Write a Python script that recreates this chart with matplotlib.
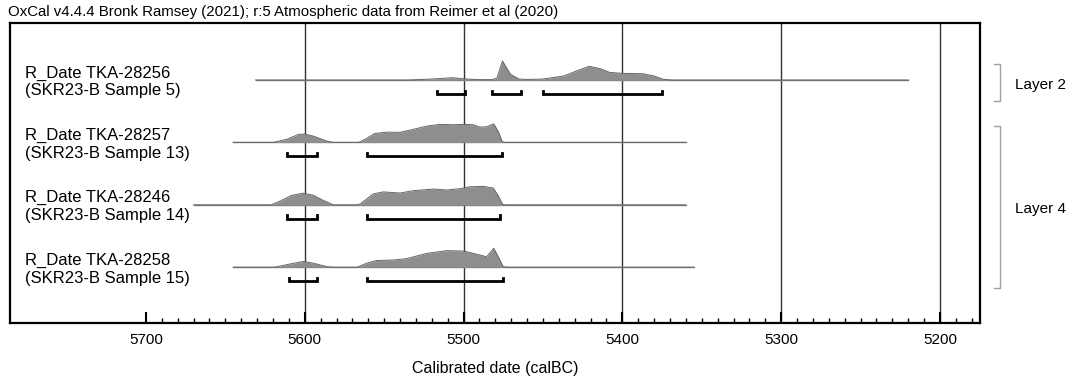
import matplotlib
matplotlib.use("Agg")
import matplotlib.pyplot as plt
from matplotlib.ticker import MultipleLocator, FixedLocator
from matplotlib.transforms import blended_transform_factory

plt.rcParams['font.family'] = ['Liberation Sans', 'DejaVu Sans']

# --- data (calBC) ---
title = "OxCal v4.4.4 Bronk Ramsey (2021); r:5 Atmospheric data from Reimer et al (2020)"
names = ["R_Date TKA-28256", "R_Date TKA-28257", "R_Date TKA-28246", "R_Date TKA-28258"]
samples = ["(SKR23-B Sample 5)", "(SKR23-B Sample 13)", "(SKR23-B Sample 14)", "(SKR23-B Sample 15)"]

# extent of each baseline
line_start = [5631, 5645, 5670, 5645]
line_end = [5220, 5360, 5360, 5355]

# probability curves (year, relative density)
yr1 = [5631, 5535, 5520, 5507, 5498, 5490, 5482, 5479, 5475.5, 5470.5, 5465, 5460, 5450,
       5437, 5429, 5421, 5414, 5408, 5400, 5387, 5380, 5374, 5368, 5220]
pd1 = [0, 0, 0.05, 0.12, 0.05, 0.02, 0.02, 0.1, 1.0, 0.3, 0.05, 0.03, 0.05,
       0.21, 0.47, 0.72, 0.6, 0.4, 0.35, 0.33, 0.21, 0.03, 0, 0]
yr2 = [5645, 5620, 5611.4, 5604, 5600, 5594.6, 5586, 5582, 5566, 5561, 5556, 5548, 5540,
       5532, 5523, 5515, 5506.5, 5500, 5494, 5490, 5485.5, 5481, 5478, 5475.6, 5474, 5360]
pd2 = [0, 0, 0.16, 0.42, 0.44, 0.33, 0.07, 0, 0, 0.21, 0.47, 0.54, 0.53,
       0.68, 0.86, 0.95, 0.93, 0.95, 0.93, 0.81, 0.82, 0.98, 0.55, 0.03, 0, 0]
yr3 = [5670, 5621, 5614.6, 5608.3, 5601, 5594.6, 5588.3, 5582, 5567, 5565, 5557, 5550.6,
       5540, 5532, 5519, 5510.6, 5502.3, 5496, 5487.6, 5481.3, 5478.2, 5475.4, 5474, 5360]
pd3 = [0, 0, 0.23, 0.5, 0.61, 0.5, 0.23, 0, 0, 0.05, 0.57, 0.68,
       0.62, 0.74, 0.83, 0.78, 0.85, 0.95, 0.97, 0.88, 0.48, 0.02, 0, 0]
yr4 = [5645, 5619, 5609.3, 5601, 5594.6, 5586, 5582, 5567, 5561, 5555, 5544, 5536, 5523,
       5510.6, 5500, 5492, 5485.5, 5481, 5478, 5475, 5471, 5355]
pd4 = [0, 0, 0.17, 0.3, 0.21, 0.03, 0, 0, 0.21, 0.35, 0.38, 0.45, 0.73,
       0.87, 0.85, 0.69, 0.55, 1.0, 0.52, 0.02, 0, 0]

# 95.4% ranges
ranges = [
    [(5517, 5499), (5482, 5464), (5450, 5375)],
    [(5611, 5592), (5561, 5476)],
    [(5611, 5592), (5561, 5477)],
    [(5610, 5592), (5561, 5475)],
]

layers = ["Layer 2", "Layer 4"]
layer_rows = [(0, 0), (1, 3)]

years = [yr1, yr2, yr3, yr4]
dens = [pd1, pd2, pd3, pd4]

# --- figure ---
fig = plt.figure(figsize=(10.71, 3.82), dpi=100)
ax = fig.add_axes([10 / 1071, (382 - 323) / 382, 970 / 1071, 300 / 382])

# y axis in pixel-like units, top down
ax.set_ylim(300, 0)
ax.set_xlim(5785.6, 5174.8)
row_y0 = 57
row_gap = 62.4
peak_h = 19

for x in [5600, 5500, 5400, 5300, 5200]:
    ax.axvline(x, color='#333333', lw=1.0, zorder=1)

for i in range(4):
    base = row_y0 + i * row_gap
    ax.plot([line_start[i], line_end[i]], [base, base], color='#808080', lw=1.0, zorder=2)
    top = [base - peak_h * d for d in dens[i]]
    ax.fill_between(years[i], top, base, color='#8e8e8e', lw=0, zorder=2)
    ax.plot(years[i], top, color='#666666', lw=0.7, zorder=2)
    by = base + 14
    for a, b in ranges[i]:
        ax.plot([a, a, b, b], [by - 3.5, by, by, by - 3.5], color='black', lw=2.0,
                solid_joinstyle='miter', zorder=3)
    ax.text(5776, base - 7, names[i], fontsize=12, va='center', ha='left')
    ax.text(5776, base + 11, samples[i], fontsize=12, va='center', ha='left')

# layer brackets on the right
trans = blended_transform_factory(ax.transAxes, ax.transData)
bx = (1000 - 10) / 970
tx = (994 - 10) / 970
for name, (r0, r1) in zip(layers, layer_rows):
    y0 = row_y0 + r0 * row_gap - 16
    y1 = row_y0 + r1 * row_gap + 21
    ax.plot([tx, bx, bx, tx], [y0, y0, y1, y1], color='#a0a0a0', lw=1.0,
            transform=trans, clip_on=False)
    ax.text((1015 - 10) / 970, (y0 + y1) / 2 + 2, name, fontsize=11, va='center', ha='left',
            transform=trans)

ax.set_yticks([])
ax.xaxis.set_major_locator(MultipleLocator(100))
ax.xaxis.set_minor_locator(FixedLocator(list(range(5700, 5175, -10))))
ax.tick_params(axis='x', which='major', direction='in', length=8, width=1.5, pad=7,
               labelsize=11)
ax.tick_params(axis='x', which='minor', direction='in', length=3.5, width=1.0)
for s in ax.spines.values():
    s.set_linewidth(1.6)

ax.set_xlabel("Calibrated date (calBC)", fontsize=11.5, labelpad=10)
fig.text(8 / 1071, 1 - 12 / 382, title, fontsize=10.8, va='center', ha='left')

fig.savefig("out.png", dpi=100)
